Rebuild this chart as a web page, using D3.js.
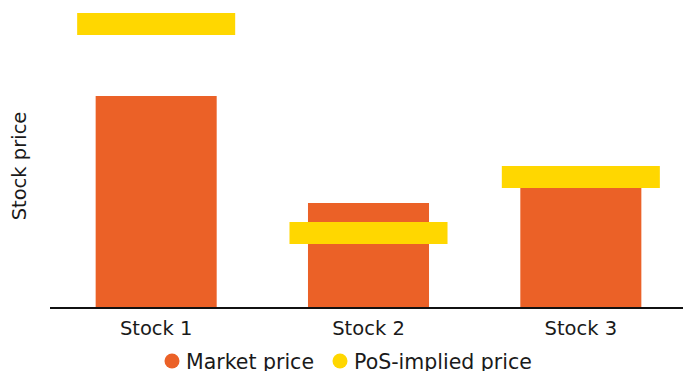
<script src="https://d3js.org/d3.v7.min.js"></script>
<style>
  body { margin: 0; background: #fff; }
  * { font-family: 'DejaVu Sans', sans-serif; }
</style>
<div id="chart"></div>
<script>
  // data (arbitrary price units)
  var stocks = ["Stock 1", "Stock 2", "Stock 3"];
  var marketPrice = [212, 105, 121];
  var posPrice = [284, 75, 131];
  var seriesNames = ["Market price", "PoS-implied price"];
  var seriesColors = ["#EB6127", "#FFD700"];

  var width = 683, height = 371;
  var margin = { top: 8, right: 0, bottom: 63, left: 50 };
  var baseY = height - margin.bottom;

  var svg = d3.select("#chart")
    .append("svg")
    .attr("width", width)
    .attr("height", height);

  var x = d3.scaleBand()
    .domain(stocks)
    .range([margin.left, 687])
    .paddingInner(0.43)
    .paddingOuter(0.215);

  var y = d3.scaleLinear()
    .domain([0, 300])
    .range([baseY, margin.top]);

  var rows = stocks.map(function (s, i) {
    return { name: s, market: marketPrice[i], pos: posPrice[i] };
  });

  // market price bars
  svg.selectAll(".bar")
    .data(rows)
    .enter()
    .append("rect")
    .attr("class", "bar")
    .attr("x", function (d) { return x(d.name); })
    .attr("y", function (d) { return y(d.market); })
    .attr("width", x.bandwidth())
    .attr("height", function (d) { return baseY - y(d.market); })
    .attr("fill", seriesColors[0]);

  // PoS-implied price markers
  var markH = 22, markExtra = 18.5;
  svg.selectAll(".mark")
    .data(rows)
    .enter()
    .append("rect")
    .attr("class", "mark")
    .attr("x", function (d) { return x(d.name) - markExtra; })
    .attr("y", function (d) { return y(d.pos) - markH / 2; })
    .attr("width", x.bandwidth() + 2 * markExtra)
    .attr("height", markH)
    .attr("fill", seriesColors[1]);

  // x axis
  var xAxis = svg.append("g")
    .attr("transform", "translate(0," + baseY + ")")
    .call(d3.axisBottom(x).tickSize(0).tickPadding(13));
  xAxis.select(".domain").remove();
  xAxis.append("line")
    .attr("x1", margin.left)
    .attr("x2", width)
    .attr("stroke", "#111")
    .attr("stroke-width", 2);
  xAxis.selectAll("text")
    .attr("fill", "#1a1a1a")
    .style("font-size", "19.5px");

  // y label
  svg.append("text")
    .attr("transform", "translate(26," + 166 + ")rotate(-90)")
    .attr("text-anchor", "middle")
    .style("font-size", "19.5px")
    .attr("fill", "#1a1a1a")
    .text("Stock price");

  // legend
  var legendX = [172, 340];
  var legend = svg.selectAll(".legend")
    .data(seriesNames)
    .enter()
    .append("g")
    .attr("transform", function (d, i) { return "translate(" + legendX[i] + ",361)"; });
  legend.append("circle")
    .attr("r", 7.5)
    .attr("fill", function (d, i) { return seriesColors[i]; });
  legend.append("text")
    .attr("x", 14)
    .attr("y", 8)
    .style("font-size", "20.5px")
    .attr("fill", "#1a1a1a")
    .text(function (d) { return d; });
</script>
